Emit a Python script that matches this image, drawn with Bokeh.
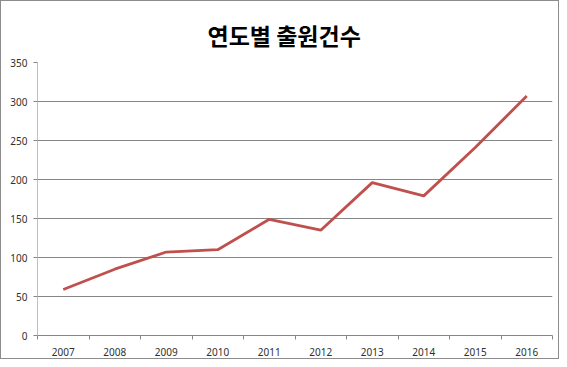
from bokeh.plotting import figure
from bokeh.models import Range1d, FixedTicker
from bokeh.embed import file_html
from bokeh.resources import INLINE

years = [2007, 2008, 2009, 2010, 2011, 2012, 2013, 2014, 2015, 2016]
year_labels = ["2007", "2008", "2009", "2010", "2011", "2012", "2013", "2014", "2015", "2016"]
counts = [59, 85, 107, 110, 149, 135, 196, 179, 241, 307]
y_ticks = [0, 50, 100, 150, 200, 250, 300, 350]
title_text = "연도별 출원건수"

p = figure(width=559, height=359, output_backend="svg", toolbar_location=None,
           x_range=Range1d(years[0] - 0.5, years[-1] + 0.5),
           y_range=Range1d(0, 350),
           min_border_left=36, min_border_right=8,
           min_border_top=61, min_border_bottom=25)
p.styles = {"border": "1px solid #8c8c8c", "box-sizing": "border-box"}

p.title.text = title_text
p.title.align = "left"
p.title.offset = 170
p.title.text_font = "Noto Sans CJK KR"
p.title.text_font_size = "23px"
p.title.text_font_style = "bold"
p.title.text_color = "#000000"
p.title.text_line_height = 1.0
p.title.standoff = 22

p.outline_line_color = None
p.background_fill_color = "white"
p.border_fill_color = "white"

p.line(years, counts, line_color="#C0504D", line_width=2.8)

# x axis
p.xaxis.ticker = FixedTicker(ticks=years, minor_ticks=[y - 0.5 for y in years] + [years[-1] + 0.5])
p.xaxis.major_label_overrides = {y: l for y, l in zip(years, year_labels)}
p.xaxis.major_tick_out = 0
p.xaxis.major_tick_in = 0
p.xaxis.minor_tick_out = 4
p.xaxis.minor_tick_in = 0
p.xaxis.minor_tick_line_color = "#868686"
p.xaxis.axis_line_color = "#868686"
p.xaxis.major_label_standoff = 8
p.xaxis.major_label_text_font = "Noto Sans"
p.xaxis.major_label_text_font_size = "10px"
p.xaxis.major_label_text_color = "#303030"
p.xgrid.grid_line_color = None

# y axis
p.yaxis.ticker = FixedTicker(ticks=y_ticks)
p.yaxis.minor_tick_line_color = None
p.yaxis.major_tick_out = 4
p.yaxis.major_tick_in = 0
p.yaxis.major_tick_line_color = "#868686"
p.yaxis.axis_line_color = "#BFBFBF"
p.yaxis.major_label_standoff = 6
p.yaxis.major_label_text_font = "Noto Sans"
p.yaxis.major_label_text_font_size = "10px"
p.yaxis.major_label_text_color = "#303030"
p.ygrid.grid_line_color = "#868686"
p.ygrid.grid_line_width = 1

open("out.html", "w").write(file_html(p, INLINE))
